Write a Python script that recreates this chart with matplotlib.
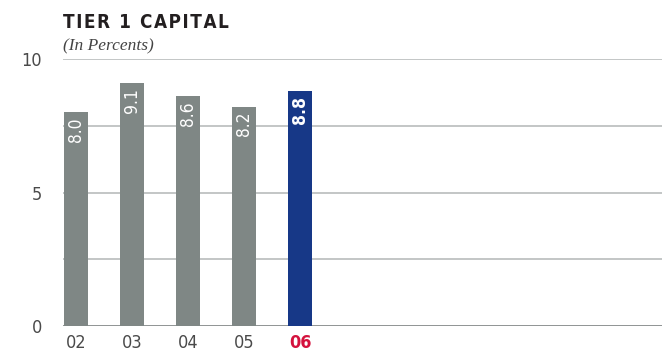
import matplotlib
matplotlib.use("Agg")
from matplotlib import pyplot as plt

years = ["02", "03", "04", "05", "06"]
values = [8.0, 9.1, 8.6, 8.2, 8.8]
labels = ["8.0", "9.1", "8.6", "8.2", "8.8"]
y_ticks = [0, 5, 10]
grid_levels = [2.5, 5, 7.5, 10]

GRAY = "#7f8785"
BLUE = "#173887"
RED = "#d4123d"
NARROW = dict(family="DejaVu Sans", stretch="condensed")

fig = plt.figure(figsize=(6.62, 3.56), dpi=100)
ax = fig.add_axes([63 / 662, 30 / 356, 1 - 63 / 662, 267 / 356])

x = list(range(len(years)))
colors = [GRAY] * (len(years) - 1) + [BLUE]

for lv in grid_levels:
    ax.axhline(lv, color="#c3c6c6", lw=1.4, zorder=1)
ax.axhline(0, color="#8f9494", lw=1.4, zorder=1)

ax.bar(x, values, width=24 / 56, color=colors, zorder=2)

for i, (v, lab) in enumerate(zip(values, labels)):
    ax.annotate(lab, (i, v), xytext=(0, -3.5), textcoords="offset points",
                rotation=90, ha="center", va="top", color="white",
                fontsize=12.5, **NARROW,
                fontweight="bold" if i == len(values) - 1 else "normal",
                zorder=3)

ax.set_xlim(-0.232, 10.46)
ax.set_ylim(0, 10)
ax.set_yticks(y_ticks)
ax.set_yticklabels([str(t) for t in y_ticks], fontsize=13, color="#4a4a4a", **NARROW)
ax.set_xticks(x)
ax.set_xticklabels(years, fontsize=13, color="#4a4a4a", **NARROW)
ax.get_xticklabels()[-1].set_color(RED)
ax.get_xticklabels()[-1].set_fontweight("bold")
ax.tick_params(axis="y", length=0, pad=15)
ax.tick_params(axis="x", length=0, pad=6)
for s in ax.spines.values():
    s.set_visible(False)

# hair spaces open up the tracking of the heading
title = "\u200a".join("TIER 1 CAPITAL")
fig.text(63 / 662, 1 - 28 / 356, title, fontsize=13.5,
         fontweight="bold", color="#231f20", ha="left", va="baseline", **NARROW)
fig.text(63 / 662, 1 - 50 / 356, "(In Percents)", fontsize=12.5, style="italic",
         color="#444444", family=["Liberation Serif", "DejaVu Serif"], ha="left", va="baseline")

fig.savefig("out.png", dpi=100)
